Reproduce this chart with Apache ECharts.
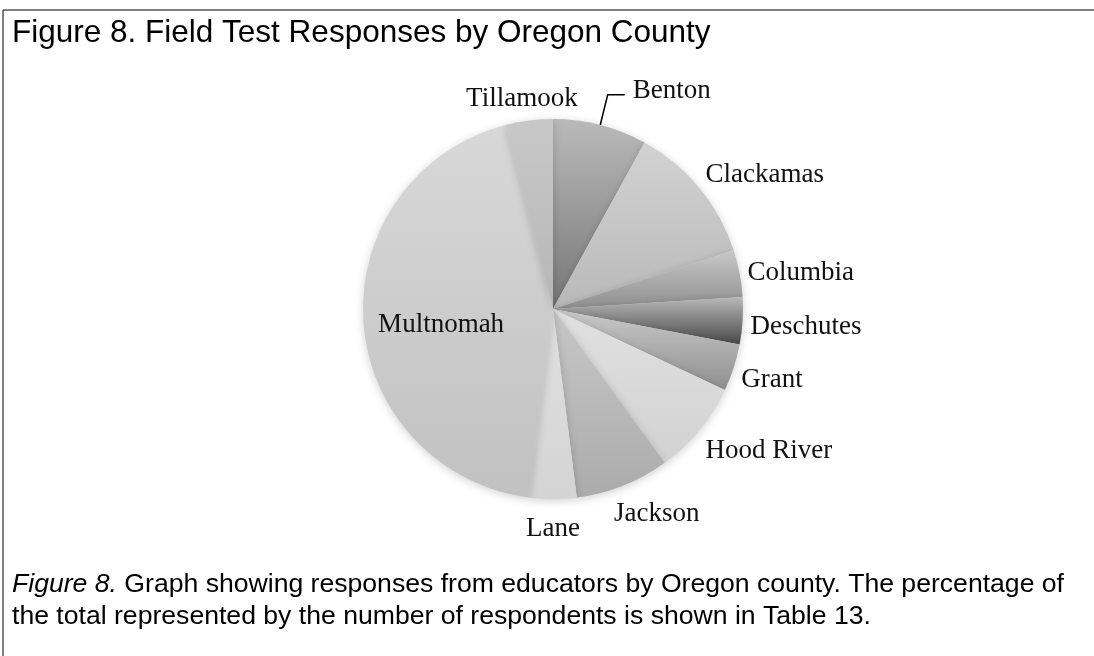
<!DOCTYPE html>
<html><head><meta charset="utf-8">
<script src="https://cdn.jsdelivr.net/npm/echarts@6/dist/echarts.min.js"></script>
<style>html,body{margin:0;padding:0;background:#fff}#c{width:1094px;height:656px}</style>
</head><body><div id="c"></div>
<script>
// ---- data ----
const counties = ['Benton','Clackamas','Columbia','Deschutes','Grant','Hood River','Jackson','Lane','Multnomah','Tillamook'];
const responses = [2, 3, 1, 1, 1, 2, 2, 1, 11, 1];
const titleText = 'Figure 8. Field Test Responses by Oregon County';
const captionLead = 'Figure 8.';
const captionLine1 = ' Graph showing responses from educators by Oregon county. The percentage of';
const captionLine2 = 'the total represented by the number of respondents is shown in Table 13.';
const insideLabels = ['Multnomah'];
const leaderLabels = ['Benton'];

// ---- styles ----
const shades = [
  ['#bababa', '#777777'], // Benton
  ['#d2d2d2', '#b9b9b9'], // Clackamas
  ['#c8c8c8', '#8e8e8e'], // Columbia
  ['#b8b8b8', '#484848'], // Deschutes
  ['#c9c9c9', '#8f8f8f'], // Grant
  ['#e0e0e0', '#d2d2d2'], // Hood River
  ['#c7c7c7', '#ababab'], // Jackson
  ['#e0e0e0', '#d4d4d4'], // Lane
  ['#d8d8d8', '#c1c1c1'], // Multnomah
  ['#c8c8c8', '#b6b6b6']  // Tillamook
];
const CX = 553, CY = 309, R = 190, GAP_X = 8, GAP_Y = 26, LIFT_Y = 4;
const insideFactor = 0.59, insideDy = 9;
const leaderShift = [53, -13];

const chart = echarts.init(document.getElementById('c'), null, {renderer: 'canvas'});
const total = responses.reduce((a, b) => a + b, 0);
const mids = [];
let acc = 0;
responses.forEach(v => { mids.push((acc + v / 2) / total * 2 * Math.PI); acc += v; });
const clamp01 = v => Math.max(0, Math.min(1, v));

const data = counties.map((name, i) => ({
  name: name,
  value: responses[i],
  itemStyle: {
    color: new echarts.graphic.LinearGradient(0, 0, 0, 1, [
      {offset: 0, color: shades[i][0]}, {offset: 1, color: shades[i][1]}
    ])
  },
  label: {position: insideLabels.includes(name) ? 'inside' : 'outside'},
  labelLine: {show: leaderLabels.includes(name)}
}));

chart.setOption({
  animation: false,
  backgroundColor: '#ffffff',
  title: [{
    text: titleText,
    left: 12, top: 17, padding: 0,
    textStyle: {fontFamily: 'Liberation Sans', fontSize: 31.5, fontWeight: 'normal', color: '#000'}
  }, {
    text: '{i|' + captionLead + '}' + captionLine1 + '\n' + captionLine2,
    left: 12, top: 569, padding: 0,
    textStyle: {fontFamily: 'Liberation Sans', fontSize: 26.6, fontWeight: 'normal', color: '#000', lineHeight: 32,
      rich: {i: {fontFamily: 'Liberation Sans', fontSize: 26.6, fontStyle: 'italic', color: '#000', lineHeight: 32}}}
  }],
  graphic: [
    {type: 'line', shape: {x1: 3, y1: 10, x2: 1094, y2: 10}, style: {stroke: '#555555', lineWidth: 1.5}},
    {type: 'line', shape: {x1: 3, y1: 10, x2: 3, y2: 656}, style: {stroke: '#555555', lineWidth: 1.5}}
  ],
  series: [{
    type: 'pie',
    center: [CX, CY],
    radius: [0, R],
    startAngle: 90,
    clockwise: true,
    avoidLabelOverlap: false,
    itemStyle: {shadowBlur: 8, shadowColor: 'rgba(0,0,0,0.18)', shadowOffsetY: 2},
    label: {
      show: true, color: '#111', fontFamily: 'Liberation Serif', fontSize: 27, formatter: '{b}'
    },
    labelLine: {length: 10, length2: 10, lineStyle: {color: '#000', width: 1.5}},
    labelLayout: function (p) {
      const i = p.dataIndex;
      const a = mids[i];
      const ux = Math.sin(a), uy = -Math.cos(a);
      const w = p.labelRect.width;
      if (insideLabels.includes(counties[i])) {
        return {x: CX + ux * R * insideFactor, y: CY + uy * R * insideFactor + insideDy,
                align: 'center', verticalAlign: 'middle'};
      }
      const f = Math.sign(ux) * clamp01(2.5 * Math.abs(ux) - 0.2);
      let x = CX + ux * (R + GAP_X) + f * w / 2;
      let y = CY + uy * (R + GAP_Y) + LIFT_Y;
      const out = {align: 'center', verticalAlign: 'middle'};
      if (leaderLabels.includes(counties[i])) {
        x += leaderShift[0]; y += leaderShift[1];
        const ex = CX + ux * R, ey = CY + uy * R;
        const left = x - w / 2;
        out.labelLinePoints = [[ex, ey], [left - 25, y + 4], [left - 8, y + 4]];
      }
      out.x = x; out.y = y;
      return out;
    },
    data: data
  }]
});
</script></body></html>
